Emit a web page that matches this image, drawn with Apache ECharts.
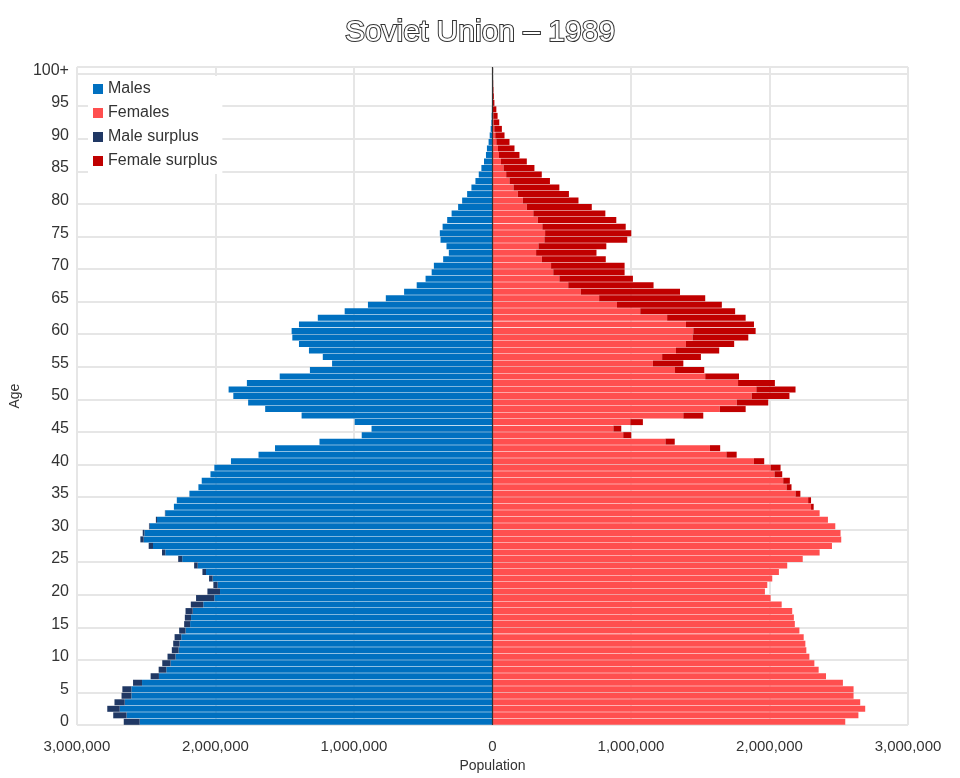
<!DOCTYPE html>
<html>
<head>
<meta charset="utf-8">
<script src="https://cdn.jsdelivr.net/npm/echarts@6/dist/echarts.min.js"></script>
<style>
  html, body { margin: 0; padding: 0; background: #fff; }
  #chart { width: 960px; height: 778px; }
</style>
</head>
<body>
<div id="chart"></div>
<script>
// population in thousands, index = age (last = 100+)
const males = [
  2662, 2738, 2781, 2729, 2678, 2672, 2595, 2468, 2410, 2384,
  2346, 2315, 2305, 2295, 2262, 2226, 2221, 2216, 2178, 2140,
  2058, 2015, 2046, 2094, 2154, 2269, 2386, 2482, 2542, 2525,
  2480, 2430, 2365, 2300, 2279, 2188, 2123, 2099, 2036, 2008,
  1888, 1689, 1570, 1249, 944, 873, 995, 1378, 1641, 1764,
  1871, 1905, 1773, 1536, 1318, 1158, 1225, 1325, 1397, 1445,
  1450, 1397, 1261, 1067, 899, 770, 638, 547, 483, 439,
  423, 356, 315, 332, 375, 380, 360, 327, 295, 248,
  219, 183, 152, 123, 99, 80, 61, 47, 40, 28,
  20, 13, 8, 6, 4, 3, 2, 1.5, 1, 0.7,
  1
];
const females = [
  2547, 2642, 2691, 2655, 2607, 2607, 2530, 2408, 2355, 2324,
  2288, 2266, 2259, 2247, 2216, 2183, 2176, 2164, 2088, 2008,
  1967, 1984, 2020, 2068, 2128, 2240, 2362, 2451, 2518, 2513,
  2475, 2422, 2362, 2319, 2300, 2223, 2159, 2147, 2092, 2080,
  1962, 1763, 1644, 1316, 1002, 930, 1086, 1522, 1828, 1991,
  2144, 2188, 2039, 1780, 1529, 1378, 1505, 1637, 1745, 1847,
  1900, 1888, 1828, 1752, 1656, 1536, 1354, 1163, 1014, 954,
  954, 818, 751, 822, 973, 1002, 962, 894, 815, 717,
  621, 552, 483, 415, 356, 303, 248, 195, 159, 123,
  87, 68, 49, 37, 28, 14, 10, 7, 5, 3,
  4
];
const ages = males.map((_, i) => (i === 100 ? '100+' : String(i)));

const maleBase = [], maleSurplus = [], femaleBase = [], femaleSurplus = [];
for (let i = 0; i < males.length; i++) {
  let m = males[i] * 1000, f = females[i] * 1000;
  let lo = Math.min(m, f);
  maleBase.push(-lo);
  maleSurplus.push(-Math.max(m - f, 0));
  femaleBase.push(lo);
  femaleSurplus.push(Math.max(f - m, 0));
}

const fmt = v => Math.abs(v).toLocaleString('en-US');
const font = 'Liberation Sans';
const barOpts = { barCategoryGap: '8%', barGap: '-100%' };

const chart = echarts.init(document.getElementById('chart'));
chart.setOption({
  animation: false,
  textStyle: { fontFamily: font },
  title: {
    text: 'Soviet Union – 1989',
    left: 'center',
    top: 13,
    textStyle: {
      fontFamily: font, fontSize: 30, fontWeight: 'normal',
      color: '#fff', textBorderColor: '#333', textBorderWidth: 2
    }
  },
  legend: {
    orient: 'vertical',
    left: 88, top: 76,
    itemWidth: 10, itemHeight: 10, itemGap: 8,
    icon: 'rect',
    backgroundColor: '#fff',
    textStyle: { fontFamily: font, fontSize: 16, color: '#333' },
    data: ['Males', 'Females', 'Male surplus', 'Female surplus']
  },
  grid: { left: 72, right: 52, top: 67, bottom: 50, containLabel: false },
  xAxis: {
    type: 'value',
    min: -3000000, max: 3000000, interval: 1000000,
    name: 'Population', nameLocation: 'middle', nameGap: 31,
    nameTextStyle: { fontFamily: font, fontSize: 14, color: '#333' },
    axisLabel: { formatter: fmt, fontSize: 15, color: '#333', margin: 14 },
    axisLine: { show: false },
    axisTick: { show: false },
    splitLine: { lineStyle: { color: '#e6e6e6', width: 2 } }
  },
  yAxis: {
    type: 'category',
    data: ages,
    name: 'Age', nameLocation: 'middle', nameGap: 52, nameRotate: 90,
    nameTextStyle: { fontFamily: font, fontSize: 14, color: '#333' },
    axisLabel: { interval: 4, fontSize: 16, color: '#333', margin: 8 },
    axisTick: { show: false },
    axisLine: { show: false },
    splitLine: { show: true, interval: 4, lineStyle: { color: '#e6e6e6', width: 2 } }
  },
  series: [
    Object.assign({
      name: 'Males', type: 'bar', stack: 'left', data: maleBase,
      itemStyle: { color: '#0070c0' },
      markLine: {
        silent: true, symbol: 'none', label: { show: false },
        lineStyle: { color: '#333', width: 1.2, type: 'solid' },
        data: [{ xAxis: 0 }]
      }
    }, barOpts),
    Object.assign({ name: 'Male surplus', type: 'bar', stack: 'left', data: maleSurplus,
      itemStyle: { color: '#203864' } }, barOpts),
    Object.assign({ name: 'Females', type: 'bar', stack: 'right', data: femaleBase,
      itemStyle: { color: '#ff4f4f' } }, barOpts),
    Object.assign({ name: 'Female surplus', type: 'bar', stack: 'right', data: femaleSurplus,
      itemStyle: { color: '#c00000' } }, barOpts)
  ]
});
</script>
</body>
</html>
